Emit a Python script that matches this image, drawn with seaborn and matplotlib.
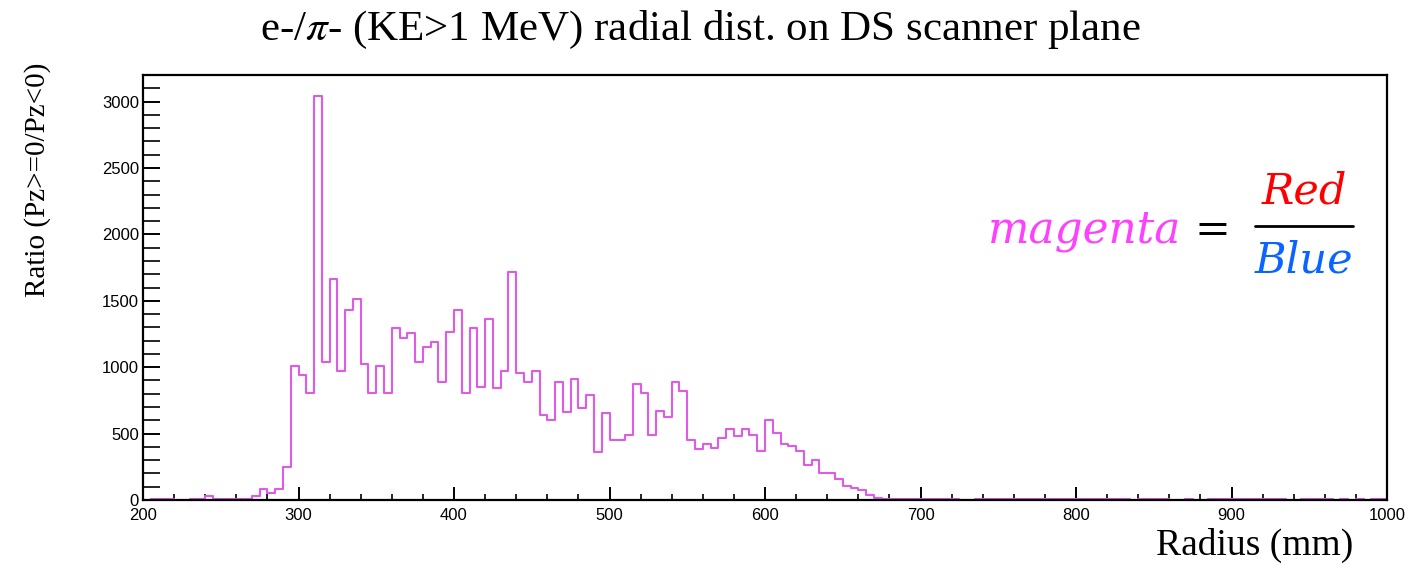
import numpy as np
import pandas as pd
import matplotlib
matplotlib.use("Agg")
import matplotlib.pyplot as plt
from matplotlib.lines import Line2D
from matplotlib.ticker import MultipleLocator
import seaborn as sns

# ---------------- data ----------------
radius_min = 200
radius_max = 1000
bin_width = 5
ratio_values = [
    0, 10, 10, 10, 0, 0, 10, 10, 30, 5,                      # 200-245
    5, 5, 5, 5, 30, 80, 50, 80, 251, 1009,                   # 250-295
    941, 808, 3040, 1042, 1664, 974, 1431, 1514, 1024, 803,  # 300-345
    1009, 803, 1293, 1217, 1260, 1042, 1155, 1192, 891, 1264,  # 350-395
    1431, 803, 1293, 853, 1363, 841, 974, 1719, 959, 891,    # 400-445
    974, 640, 602, 891, 665, 909, 690, 791, 364, 653,        # 450-495
    452, 452, 489, 873, 803, 489, 670, 622, 891, 823,        # 500-545
    452, 381, 419, 394, 469, 535, 485, 535, 489, 366,        # 550-595
    600, 506, 425, 405, 370, 264, 301, 206, 201, 156,        # 600-645
    105, 88, 75, 38, 13, 10, 8, 8, 6, 6,                     # 650-695
    6, 6, 5, 6, 5, 0, 0, 5, 6, 5,                            # 700-745
    6, 5, 6, 5, 5, 6, 5, 6, 5, 5,                            # 750-795
    5, 6, 5, 5, 6, 5, 5, 0, 5, 5,                            # 800-845
    6, 5, 0, 0, 5, 0, 0, 5, 6, 5,                            # 850-895
    5, 6, 5, 5, 6, 5, 5, 0, 0, 5,                            # 900-945
    6, 5, 5, 0, 5, 0, 5, 0, 5, 8,                            # 950-995
]
x_tick_labels = ["200", "300", "400", "500", "600", "700", "800", "900", "1000"]
y_tick_labels = ["0", "500", "1000", "1500", "2000", "2500", "3000"]

title_text = "e-/$\\pi$- (KE>1 MeV) radial dist. on DS scanner plane"
x_label = "Radius (mm)"
y_label = "Ratio (Pz>=0/Pz<0)"

centers = np.arange(radius_min, radius_max, bin_width) + bin_width / 2
df = pd.DataFrame({"radius": centers, "ratio": ratio_values})

# ---------------- style ----------------
sns.set_style("ticks")
plt.rcParams["font.family"] = ["Liberation Sans", "DejaVu Sans"]
plt.rcParams["mathtext.fontset"] = "stix"
for k in ["text.color", "axes.labelcolor", "xtick.color", "ytick.color"]:
    plt.rcParams[k] = "black"

W, H = 1421, 570
fig = plt.figure(figsize=(W / 100, H / 100), dpi=100)
ax = fig.add_axes([143 / W, 1 - 500 / H, (1387 - 143) / W, (500 - 75) / H])

sns.histplot(data=df, x="radius", weights="ratio", binwidth=bin_width,
             binrange=(radius_min, radius_max),
             element="step", fill=False, color="#e05ae8", linewidth=1.5,
             ax=ax, legend=False)

ax.set_xlim(radius_min, radius_max)
ax.set_ylim(0, 3200)
ax.set_xticks([int(v) for v in x_tick_labels])
ax.set_xticklabels(x_tick_labels)
ax.set_yticks([int(v) for v in y_tick_labels])
ax.set_yticklabels(y_tick_labels)
ax.xaxis.set_minor_locator(MultipleLocator(20))
ax.yaxis.set_minor_locator(MultipleLocator(100))
ax.set_xlabel("")
ax.set_ylabel("")

for s in ax.spines.values():
    s.set_visible(True)
    s.set_color("black")
    s.set_linewidth(1.6)
    s.set_zorder(3)

ax.tick_params(axis="x", which="major", direction="in", length=9.5, width=1.4,
               labelsize=12, pad=6, top=False, colors="black")
ax.tick_params(axis="x", which="minor", direction="in", length=4.5, width=1.2, top=False)
ax.tick_params(axis="y", which="major", direction="in", length=12.5, width=1.4,
               labelsize=12, pad=3, right=False, colors="black")
ax.tick_params(axis="y", which="minor", direction="in", length=12.5, width=1.2, right=False)

# titles / labels
fig.text(700 / W, 1 - 30 / H, title_text, ha="center", va="center",
         fontsize=31, family="Liberation Serif", color="black")
fig.text(38 / W, 1 - 180 / H, y_label, rotation=90, ha="center", va="center",
         fontsize=21, family="Liberation Serif", color="black")
fig.text(1353 / W, 1 - 555 / H, x_label, ha="right", va="baseline",
         fontsize=27, family="Liberation Serif", color="black")

# annotation: magenta = Red / Blue
fig.text(988 / W, 1 - 243 / H, "magenta", ha="left", va="baseline",
         fontsize=31.5, family="DejaVu Serif", style="italic", color="#ff40ff")
fig.text(1212 / W, 1 - 243 / H, "=", ha="center", va="baseline",
         fontsize=31, family="DejaVu Serif", color="black")
fig.text(1304 / W, 1 - 204 / H, "Red", ha="center", va="baseline",
         fontsize=31, family="DejaVu Serif", style="italic", color="#ff0000")
fig.text(1304 / W, 1 - 273 / H, "Blue", ha="center", va="baseline",
         fontsize=31, family="DejaVu Serif", style="italic", color="#0a64ff")
fig.add_artist(Line2D([1255 / W, 1353 / W], [1 - 226 / H, 1 - 226 / H],
                      transform=fig.transFigure, color="black", linewidth=2))

fig.savefig("out.png", dpi=100)
